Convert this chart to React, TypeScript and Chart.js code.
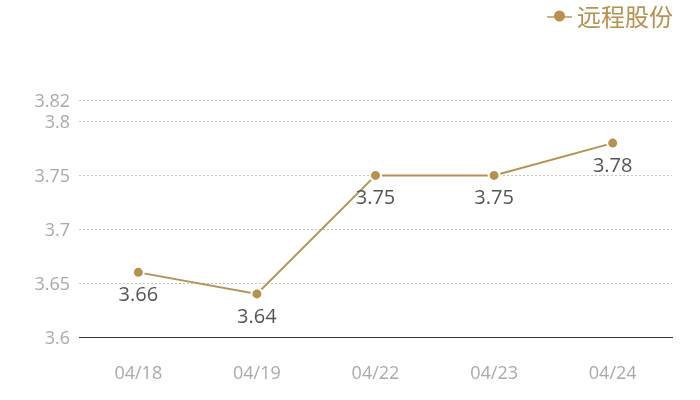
import React, { useEffect, useRef } from "react";
import { Chart, registerables } from "chart.js";

Chart.register(...registerables);

const categories = ["04/18", "04/19", "04/22", "04/23", "04/24"];
const seriesName = "远程股份";
const seriesValues = [3.66, 3.64, 3.75, 3.75, 3.78];
const yTicks = [3.6, 3.65, 3.7, 3.75, 3.8, 3.82];

const GOLD = "#b8914f";
const FONT = "'Open Sans', 'Noto Sans CJK SC', sans-serif";

const labelPlugin = {
  id: "valueLabels",
  afterDatasetsDraw(chart: any) {
    const ctx = chart.ctx;
    const meta = chart.getDatasetMeta(0);
    ctx.save();
    ctx.font = `20px ${FONT}`;
    ctx.fillStyle = "#555555";
    ctx.textAlign = "center";
    ctx.textBaseline = "middle";
    meta.data.forEach((pt: any, i: number) => {
      const v = chart.data.datasets[0].data[i];
      ctx.fillText(String(v), pt.x, pt.y + 23);
    });
    ctx.restore();
  },
};

const legendPlugin = {
  id: "customLegend",
  afterDraw(chart: any) {
    const ctx = chart.ctx;
    ctx.save();
    ctx.font = `24px 'Noto Sans CJK SC', sans-serif`;
    ctx.textAlign = "right";
    ctx.textBaseline = "middle";
    ctx.fillStyle = GOLD;
    const right = chart.chartArea.right;
    const y = 17;
    ctx.fillText(seriesName, right + 1, y);
    const w = ctx.measureText(seriesName).width;
    const start = right + 1 - w - 5;
    ctx.strokeStyle = GOLD;
    ctx.globalAlpha = 0.7;
    ctx.lineWidth = 2;
    ctx.beginPath();
    ctx.moveTo(start - 25, y);
    ctx.lineTo(start, y);
    ctx.stroke();
    ctx.globalAlpha = 1;
    ctx.fillStyle = GOLD;
    ctx.beginPath();
    ctx.arc(start - 12.5, y - 1, 5.5, 0, Math.PI * 2);
    ctx.fill();
    ctx.restore();
  },
};

export default function App() {
  const ref = useRef<HTMLCanvasElement>(null);
  useEffect(() => {
    document.body.style.margin = "0";
    const chart = new Chart(ref.current as HTMLCanvasElement, {
      type: "line",
      data: {
        labels: categories,
        datasets: [
          {
            label: seriesName,
            data: seriesValues,
            borderColor: GOLD,
            backgroundColor: GOLD,
            borderWidth: 2,
            pointRadius: 5.5,
            pointBorderWidth: 2,
            pointBorderColor: "#ffffff",
            pointBackgroundColor: GOLD,
            tension: 0,
          },
        ],
      },
      options: {
        animation: false,
        responsive: false,
        layout: { padding: { top: 100, right: 28, bottom: 17, left: 0 } },
        plugins: {
          legend: { display: false },
          tooltip: { enabled: false },
        },
        scales: {
          x: {
            offset: true,
            grid: { display: false, drawTicks: false },
            border: { display: true, color: "#333333", width: 1 },
            ticks: {
              color: "#aaaaaa",
              font: { size: 18, family: FONT },
              padding: 26,
            },
            afterFit(scale: any) {
              scale.height = 46;
            },
          },
          y: {
            min: 3.6,
            max: 3.82,
            afterBuildTicks(scale: any) {
              scale.ticks = yTicks.map((v) => ({ value: v }));
            },
            afterFit(scale: any) {
              scale.width = 79;
            },
            grid: {
              color: "#c4c4c4",
              drawTicks: false,
              lineWidth: 1,
            },
            border: { display: false, dash: [2, 2] },
            ticks: {
              color: "#aaaaaa",
              font: { size: 18, family: FONT },
              padding: 9,
              labelOffset: 1.5,
              callback: (v: any) => String(Number(v)),
            },
          },
        },
      },
      plugins: [labelPlugin, legendPlugin],
    });
    return () => chart.destroy();
  }, []);
  return (
    <div style={{ width: 700, height: 400 }}>
      <canvas ref={ref} width={700} height={400} />
    </div>
  );
}
